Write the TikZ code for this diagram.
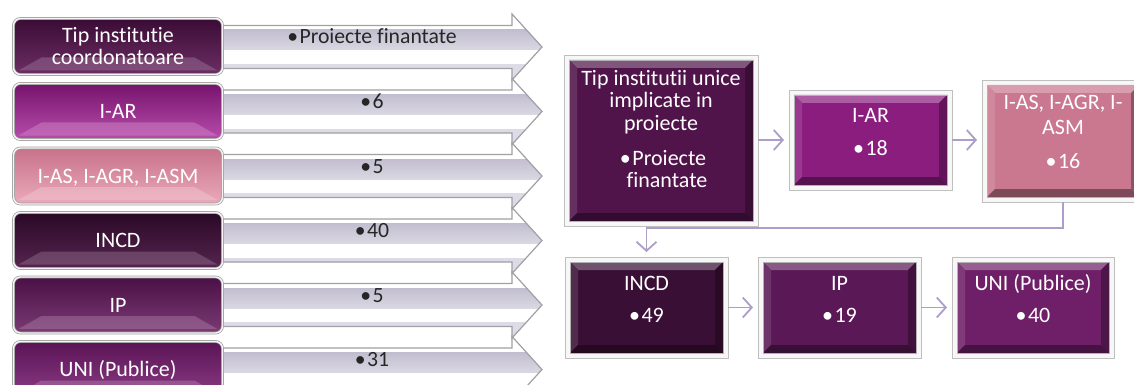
\documentclass[tikz,border=0pt]{standalone}
\usepackage{fontspec}
\setmainfont{Carlito}[Ligatures={NoCommon,NoContextual}]
\usetikzlibrary{arrows.meta}
\definecolor{agray}{RGB}{194,190,208}
\definecolor{aline}{RGB}{160,160,165}
\definecolor{lav}{RGB}{172,158,200}
% left boxes
\definecolor{laT}{HTML}{3A0C35}\definecolor{laB}{HTML}{6C2E64}
\definecolor{lbT}{HTML}{76136C}\definecolor{lbB}{HTML}{B84DAC}
\definecolor{lcT}{HTML}{C7728A}\definecolor{lcB}{HTML}{EBAABA}
\definecolor{ldT}{HTML}{2A0826}\definecolor{ldB}{HTML}{56254F}
\definecolor{leT}{HTML}{4A1046}\definecolor{leB}{HTML}{7B3B74}
\definecolor{lfT}{HTML}{5A1455}\definecolor{lfB}{HTML}{8B3B84}
% right boxes
\definecolor{rA}{HTML}{50144A}
\definecolor{rB}{HTML}{8B1D7F}
\definecolor{rC}{HTML}{C97890}
\definecolor{rD}{HTML}{3A0F35}
\definecolor{rE}{HTML}{5A1856}
\definecolor{rF}{HTML}{6E1F68}
\newcommand\bul{•\kern1.5pt}
\tikzset{
  lbox/.style={draw=black!38, double=white!92!gray, double distance=1.4pt, line width=0.7pt,
    rounded corners=7pt, minimum width=209pt, minimum height=56pt, inner sep=0pt, outer sep=0pt},
  rframe/.style={draw=black!25, fill=black!3, line width=0.8pt, inner sep=0pt, outer sep=0pt},
  wtext/.style={text=white, font=\fontsize{22}{24}\selectfont, inner sep=0pt, anchor=base},
  atext/.style={text=black!85, font=\fontsize{21.7}{24}\selectfont, inner sep=0pt, anchor=base},
  abody/.style={draw=aline, line width=1.2pt, line join=miter},
  conn/.style={draw=lav, line width=1.8pt, shorten >=5pt,
    -{Straight Barb[length=9pt, width=20pt, line width=1.8pt]}}
}
\newcommand\larrow[3]{%
  \begin{scope}
    \clip (210,#2-21.5) -- (512,#2-21.5) -- (512,#2-33) -- (542,#2) -- (512,#2+33) -- (512,#2+21.5) -- (210,#2+21.5) -- cycle;
    \fill[white] (200,#2-40) rectangle (550,#2+40);
    \shade[top color=agray, bottom color=agray!60!white] (200,#2-17) rectangle (550,#2+3);
    \fill[agray!55!white] (200,#2+17) rectangle (550,#2+40);
  \end{scope}
  \draw[abody] (210,#2-21.5) -- (512,#2-21.5) -- (512,#2-33) -- (542,#2) -- (512,#2+33) -- (512,#2+21.5) -- (210,#2+21.5);
  \node[atext] (#1) at (372,#2-3) {#3};
}
\newcommand\lbx[4]{%
  \node[lbox, top color=#3, bottom color=#4] (#1) at (118,#2) {};
  \fill[#4!65!white, opacity=0.45] ([shift={(5,-4)}]#1.south west) -- ([shift={(-5,-4)}]#1.south east)
     -- ([shift={(-28,-17)}]#1.south east) -- ([shift={(28,-17)}]#1.south west) -- cycle;
}
\newcommand\rbx[6]{% name, cx, cy, w, h, colour
  \node[rframe, minimum width=#4pt, minimum height=#5pt] (#1) at (#2,#3) {};
  \fill[#6] ([shift={(5,5)}]#1.north west) rectangle ([shift={(-5,-5)}]#1.south east);
  \fill[#6!72!white] ([shift={(5,5)}]#1.north west) -- ([shift={(-5,5)}]#1.north east)
     -- ([shift={(-13,13)}]#1.north east) -- ([shift={(13,13)}]#1.north west) -- cycle;
  \fill[#6!88!white] ([shift={(5,5)}]#1.north west) -- ([shift={(13,13)}]#1.north west)
     -- ([shift={(13,-13)}]#1.south west) -- ([shift={(5,-5)}]#1.south west) -- cycle;
  \fill[#6!70!black] ([shift={(-5,5)}]#1.north east) -- ([shift={(-13,13)}]#1.north east)
     -- ([shift={(-13,-13)}]#1.south east) -- ([shift={(-5,-5)}]#1.south east) -- cycle;
  \fill[#6!62!black] ([shift={(5,-5)}]#1.south west) -- ([shift={(-5,-5)}]#1.south east)
     -- ([shift={(-13,-13)}]#1.south east) -- ([shift={(13,-13)}]#1.south west) -- cycle;
  \draw[black!30, line width=0.5pt] ([shift={(5,5)}]#1.north west) rectangle ([shift={(-5,-5)}]#1.south east);
}
\begin{document}
\begin{tikzpicture}[x=1pt, y=-1pt]
\useasboundingbox (0,0) rectangle (1134,385);
\clip (0,0) rectangle (1134,385);
% ---- left arrows
\larrow{a1}{47}{\bul Proiecte finantate}
\larrow{a2}{111.5}{\bul 6}
\larrow{a3}{176}{\bul 5}
\larrow{a4}{240.5}{\bul 40}
\larrow{a5}{305}{\bul 5}
\larrow{a6}{369.5}{\bul 31}
% ---- left boxes
\lbx{L1}{46.5}{laT}{laB}
\node[wtext] (L1a) at (118,43) {Tip institutie};
\node[wtext] (L1b) at (118,65) {coordonatoare};
\lbx{L2}{111.5}{lbT}{lbB}
\node[wtext] (L2a) at (118,118.5) {I-AR};
\lbx{L3}{176}{lcT}{lcB}
\node[wtext] (L3a) at (118,183) {I-AS, I-AGR, I-ASM};
\lbx{L4}{240.5}{ldT}{ldB}
\node[wtext] (L4a) at (118,247.5) {INCD};
\lbx{L5}{305}{leT}{leB}
\node[wtext] (L5a) at (118,312) {IP};
\lbx{L6}{369.5}{lfT}{lfB}
\node[wtext] (L6a) at (118,376.5) {UNI (Publice)};
% ---- right boxes
\rbx{B0}{661}{140.5}{194}{171}{rA}
\node[wtext] (B0a) at (661,86) {Tip institutii unice};
\node[wtext] (B0b) at (661,108) {implicate in};
\node[wtext] (B0c) at (661,130) {proiecte};
\node[wtext] (B0d) at (663,165) {\bul Proiecte};
\node[wtext] (B0e) at (667,187) {finantate};
\rbx{B1}{870.5}{140}{163}{100}{rB}
\node[wtext] (B1a) at (870.5,123) {I-AR};
\node[wtext] (B1b) at (870.5,155) {\bul 18};
\rbx{B2}{1063}{141}{162}{122}{rC}
\node[wtext] (B2a) at (1063,110) {I-AS, I-AGR, I-};
\node[wtext] (B2b) at (1063,135) {ASM};
\node[wtext] (B2c) at (1063,168) {\bul 16};
\rbx{B3}{646.5}{307.5}{163}{101}{rD}
\node[wtext] (B3a) at (646.5,290) {INCD};
\node[wtext] (B3b) at (646.5,322) {\bul 49};
\rbx{B4}{839.5}{307.5}{163}{101}{rE}
\node[wtext] (B4a) at (839.5,290) {IP};
\node[wtext] (B4b) at (839.5,322) {\bul 19};
\rbx{B5}{1033}{307.5}{162}{101}{rF}
\node[wtext] (B5a) at (1033,290) {UNI (Publice)};
\node[wtext] (B5b) at (1033,322) {\bul 40};
% ---- connectors
\draw[conn] (B0.east |- B1.west) -- (B1.west);
\draw[conn] (B1.east) -- (B1.east -| B2.west);
\draw[conn] (B2.south) -- ++(0,26) -| (B3.north);
\draw[conn] (B3.east) -- (B4.west);
\draw[conn] (B4.east) -- (B5.west);
\end{tikzpicture}
\end{document}
